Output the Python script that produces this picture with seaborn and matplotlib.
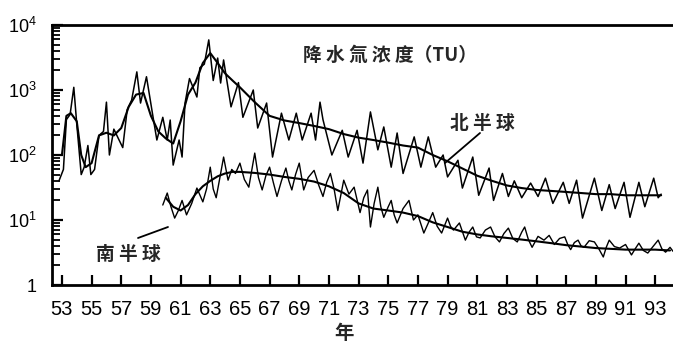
import matplotlib
matplotlib.use("Agg")
import matplotlib.pyplot as plt
import seaborn as sns
import numpy as np
from matplotlib.ticker import LogLocator, NullFormatter, FixedLocator

# ---------------- data ----------------
nh_year = [52.8, 53.1, 53.3, 53.55, 53.8, 54.0, 54.3, 54.5, 54.75, 54.95, 55.2, 55.5, 55.8,
           56.0, 56.2, 56.5, 56.8, 57.1, 57.4, 57.7, 58.05, 58.3, 58.7, 59.1, 59.4, 59.8,
           60.1, 60.3, 60.5, 60.9, 61.1, 61.3, 61.6, 62.1, 62.3, 62.6, 62.9, 63.2, 63.5,
           63.7, 63.9, 64.4, 64.9, 65.2, 65.9, 66.2, 66.8, 67.2, 67.8, 68.3, 68.8, 69.2,
           69.8, 70.1, 70.4, 70.6, 71.2, 71.9, 72.3, 72.9, 73.3, 73.8, 74.3, 74.7, 75.2,
           75.6, 76.0, 76.75, 77.2, 77.7, 78.2, 78.7, 79.0, 79.7, 80.0, 80.7, 81.1, 81.8,
           82.1, 82.7, 83.1, 83.5, 84.0, 84.6, 85.1, 85.6, 86.1, 86.8, 87.2, 87.7, 88.1,
           88.9, 89.4, 89.9, 90.3, 90.9, 91.3, 91.9, 92.3, 92.9, 93.2, 93.4]
nh_value = [40, 60, 350, 420, 1100, 300, 50, 65, 140, 50, 60, 200, 230,
            650, 100, 250, 180, 130, 500, 700, 1900, 630, 1600, 440, 170, 380,
            170, 345, 70, 170, 93, 630, 1500, 780, 2200, 2500, 5900, 1400, 3100,
            1280, 2900, 550, 1300, 380, 1000, 260, 630, 93, 440, 170, 440, 170,
            440, 170, 650, 350, 100, 240, 93, 240, 75, 460, 120, 270, 65,
            218, 52, 190, 65, 190, 65, 100, 46, 83, 31, 93, 24, 63,
            20, 52, 23, 40, 22, 37, 23, 44, 18, 38, 18, 41, 10.7,
            44, 14, 35, 15, 38, 11, 38, 16, 44, 22, 25]

nh_smooth_year = [53.0, 53.3, 53.6, 54.0, 54.3, 54.6, 55.0, 55.5, 56.0, 56.5, 57.0, 57.5,
                  58.0, 58.5, 59.0, 59.5, 60.0, 60.5, 61.0, 61.5, 62.0, 62.5, 63.0, 63.5,
                  64.0, 64.5, 65.0, 66, 67, 68, 69, 70, 71, 72, 73, 74, 75, 76, 77, 78,
                  79, 80, 81, 82, 83, 84, 85, 86, 87, 88, 89, 90, 91, 92, 93, 93.4]
nh_smooth_value = [100, 400, 440, 330, 100, 65, 75, 200, 220, 200, 260, 550,
                   850, 900, 400, 230, 180, 150, 330, 850, 1300, 2600, 3700, 2600,
                   1800, 1400, 1100, 650, 400, 340, 310, 280, 250, 210, 185, 170, 155,
                   140, 130, 100, 80, 62, 48, 40, 34, 31, 29, 28, 27, 26, 25, 25, 24,
                   24, 24, 24]

sh_year = [59.8, 60.1, 60.35, 60.6, 60.85, 61.1, 61.4, 61.75, 62.1, 62.5, 62.75, 63.0, 63.2,
           63.4, 63.65, 63.9, 64.2, 64.45, 64.7, 65.0, 65.3, 65.6, 66.0, 66.25, 66.5, 66.75,
           67.0, 67.25, 67.5, 67.8, 68.1, 68.3, 68.5, 68.75, 69.0, 69.3, 69.6, 70.0, 70.3,
           70.6, 70.85, 71.1, 71.35, 71.6, 72.0, 72.35, 72.7, 73.1, 73.35, 73.6, 73.8, 74.05,
           74.3, 74.5, 74.7, 75.0, 75.2, 75.4, 75.6, 76.0, 76.4, 76.7, 77.0, 77.4, 77.7,
           78.0, 78.3, 78.6, 79.0, 79.2, 79.4, 79.8, 80.2, 80.45, 80.7, 80.95, 81.2, 81.55,
           81.9, 82.2, 82.5, 82.8, 83.1, 83.4, 83.7, 84.0, 84.2, 84.45, 84.7, 85.1, 85.5,
           85.85, 86.2, 86.55, 86.9, 87.1, 87.3, 87.55, 87.8, 88.0, 88.2, 88.55, 88.9, 89.2,
           89.5, 89.7, 89.9, 90.25, 90.6, 91.0, 91.4, 91.65, 91.9, 92.2, 92.5, 92.85, 93.2,
           93.45, 93.7, 94.0, 94.2]
sh_value = [17, 26, 16, 10.7, 14, 20, 12, 18, 31, 19, 30, 65, 30,
            22, 45, 93, 41, 60, 52, 75, 42, 32, 107, 45, 29, 48,
            65, 38, 23, 40, 63, 40, 29, 50, 75, 29, 45, 58, 35,
            23, 38, 52, 30, 14, 41, 25, 32, 13, 22, 29, 7.8, 18,
            32, 16, 11, 16, 20, 12, 9, 15, 20, 10, 12, 6.3, 9,
            13, 8, 6.3, 10.7, 8, 7, 9, 4.9, 6.5, 7.8, 5.5, 5.3, 7,
            7.8, 5.5, 4.6, 6.2, 7.5, 5.2, 4.6, 6.5, 7.8, 5.0, 3.8, 5.6, 4.9,
            5.8, 4.2, 5.2, 5.5, 4.2, 3.5, 4.5, 4.9, 4.0, 3.8, 4.8, 4.6, 3.6,
            2.7, 3.8, 4.9, 3.9, 3.7, 4.2, 2.9, 3.6, 4.4, 3.4, 3.1, 3.9, 4.9,
            3.6, 3.2, 3.8, 3.3]

sh_smooth_year = [60.0, 60.5, 61.0, 61.5, 62.0, 62.5, 63.0, 63.5, 64.0, 64.5, 65, 66, 67,
                  68, 69, 70, 71, 72, 73, 74, 75, 76, 77, 78, 79, 80, 81, 82, 83, 84,
                  85, 86, 87, 88, 89, 90, 91, 92, 93, 94]
sh_smooth_value = [22, 16, 14, 17, 25, 33, 40, 47, 52, 55, 55, 53, 50,
                   46, 43, 39, 33, 26, 18, 15, 14, 13, 11.5, 9.2, 7.8, 6.6, 6.0, 5.6,
                   5.3, 5.0, 4.7, 4.4, 4.1, 3.9, 3.7, 3.6, 3.5, 3.5, 3.5, 3.4]

year_ticks = list(range(53, 94, 2))
year_labels = [str(y) for y in year_ticks]
value_ticks = [1, 10, 100, 1000, 10000]
value_labels = ["1", r"$\mathregular{10^1}$", r"$\mathregular{10^2}$",
                r"$\mathregular{10^3}$", r"$\mathregular{10^4}$"]

title_text = "降 水 氚 浓 度（TU）"
nh_label = "北 半 球"
sh_label = "南 半 球"
x_label = "年"

# ---------------- style ----------------
sns.set_theme(style="ticks")
plt.rcParams.update({
    "xtick.bottom": True, "xtick.top": False, "ytick.left": True, "ytick.right": False,
    "xtick.direction": "in", "ytick.direction": "in",
    "xtick.color": "black", "ytick.color": "black",
    "ytick.minor.visible": True,
})
plt.rcParams["font.family"] = ["Liberation Sans", "DejaVu Sans"]
cjk = ["Noto Sans CJK SC", "DejaVu Sans"]

W, H = 673, 346
fig = plt.figure(figsize=(W / 100, H / 100), dpi=100)
ax = fig.add_axes([52 / W, (H - 285) / H, (W - 52) / W, (285 - 25) / H])

sns.lineplot(x=nh_year, y=nh_value, ax=ax, color="black", lw=1.1,
             estimator=None, sort=False)
sns.lineplot(x=nh_smooth_year, y=nh_smooth_value, ax=ax, color="black", lw=1.5,
             estimator=None, sort=False)
sns.lineplot(x=sh_year, y=sh_value, ax=ax, color="black", lw=1.0,
             estimator=None, sort=False)
sns.lineplot(x=sh_smooth_year, y=sh_smooth_value, ax=ax, color="black", lw=1.5,
             estimator=None, sort=False)

ax.set_yscale("log")
ax.set_xlim(52.33, 94.2)
ax.set_ylim(1, 10000)

ax.xaxis.set_major_locator(FixedLocator(year_ticks))
ax.set_xticklabels(year_labels)
ax.yaxis.set_major_locator(FixedLocator(value_ticks))
ax.set_yticklabels(value_labels)
ax.yaxis.set_minor_locator(LogLocator(base=10, subs=np.arange(2, 10)))
ax.yaxis.set_minor_formatter(NullFormatter())
ax.xaxis.set_minor_locator(FixedLocator([]))

ax.tick_params(axis="x", which="major", direction="in", length=7, width=1.6,
               bottom=True, top=False, labelsize=14.5, pad=11, colors="black")
ax.tick_params(axis="y", which="major", direction="in", length=8, width=1.6,
               left=True, right=False, labelsize=13, pad=11, colors="black")
ax.tick_params(axis="y", which="minor", direction="in", length=6, width=1.3,
               left=True, right=False, colors="black")

for side in ["left", "bottom", "top"]:
    ax.spines[side].set_visible(True)
    ax.spines[side].set_color("black")
    ax.spines[side].set_linewidth(2)
ax.spines["right"].set_visible(False)

ax.set_xlabel(x_label, family=cjk, fontsize=14, fontweight="bold", labelpad=2)
ax.xaxis.set_label_coords((344 - 52) / 621, -0.15)
ax.set_ylabel("")


def fx(px):
    return (px - 52) / 621


def fy(py):
    return (285 - py) / 260


ax.text(fx(390), fy(55), title_text, transform=ax.transAxes, ha="center", va="center",
        family=cjk, fontsize=13.5, fontweight="bold")
ax.text(fx(482), fy(123), nh_label, transform=ax.transAxes, ha="center", va="center",
        family=cjk, fontsize=13.5, fontweight="bold")
ax.text(fx(128), fy(255), sh_label, transform=ax.transAxes, ha="center", va="center",
        family=cjk, fontsize=13.5, fontweight="bold")
ax.plot([fx(480), fx(445)], [fy(133), fy(163)], transform=ax.transAxes,
        color="black", lw=1.3)
ax.plot([fx(138), fx(168)], [fy(238), fy(227)], transform=ax.transAxes,
        color="black", lw=1.3)

fig.canvas.draw()
fig.savefig("out.png", dpi=100)
